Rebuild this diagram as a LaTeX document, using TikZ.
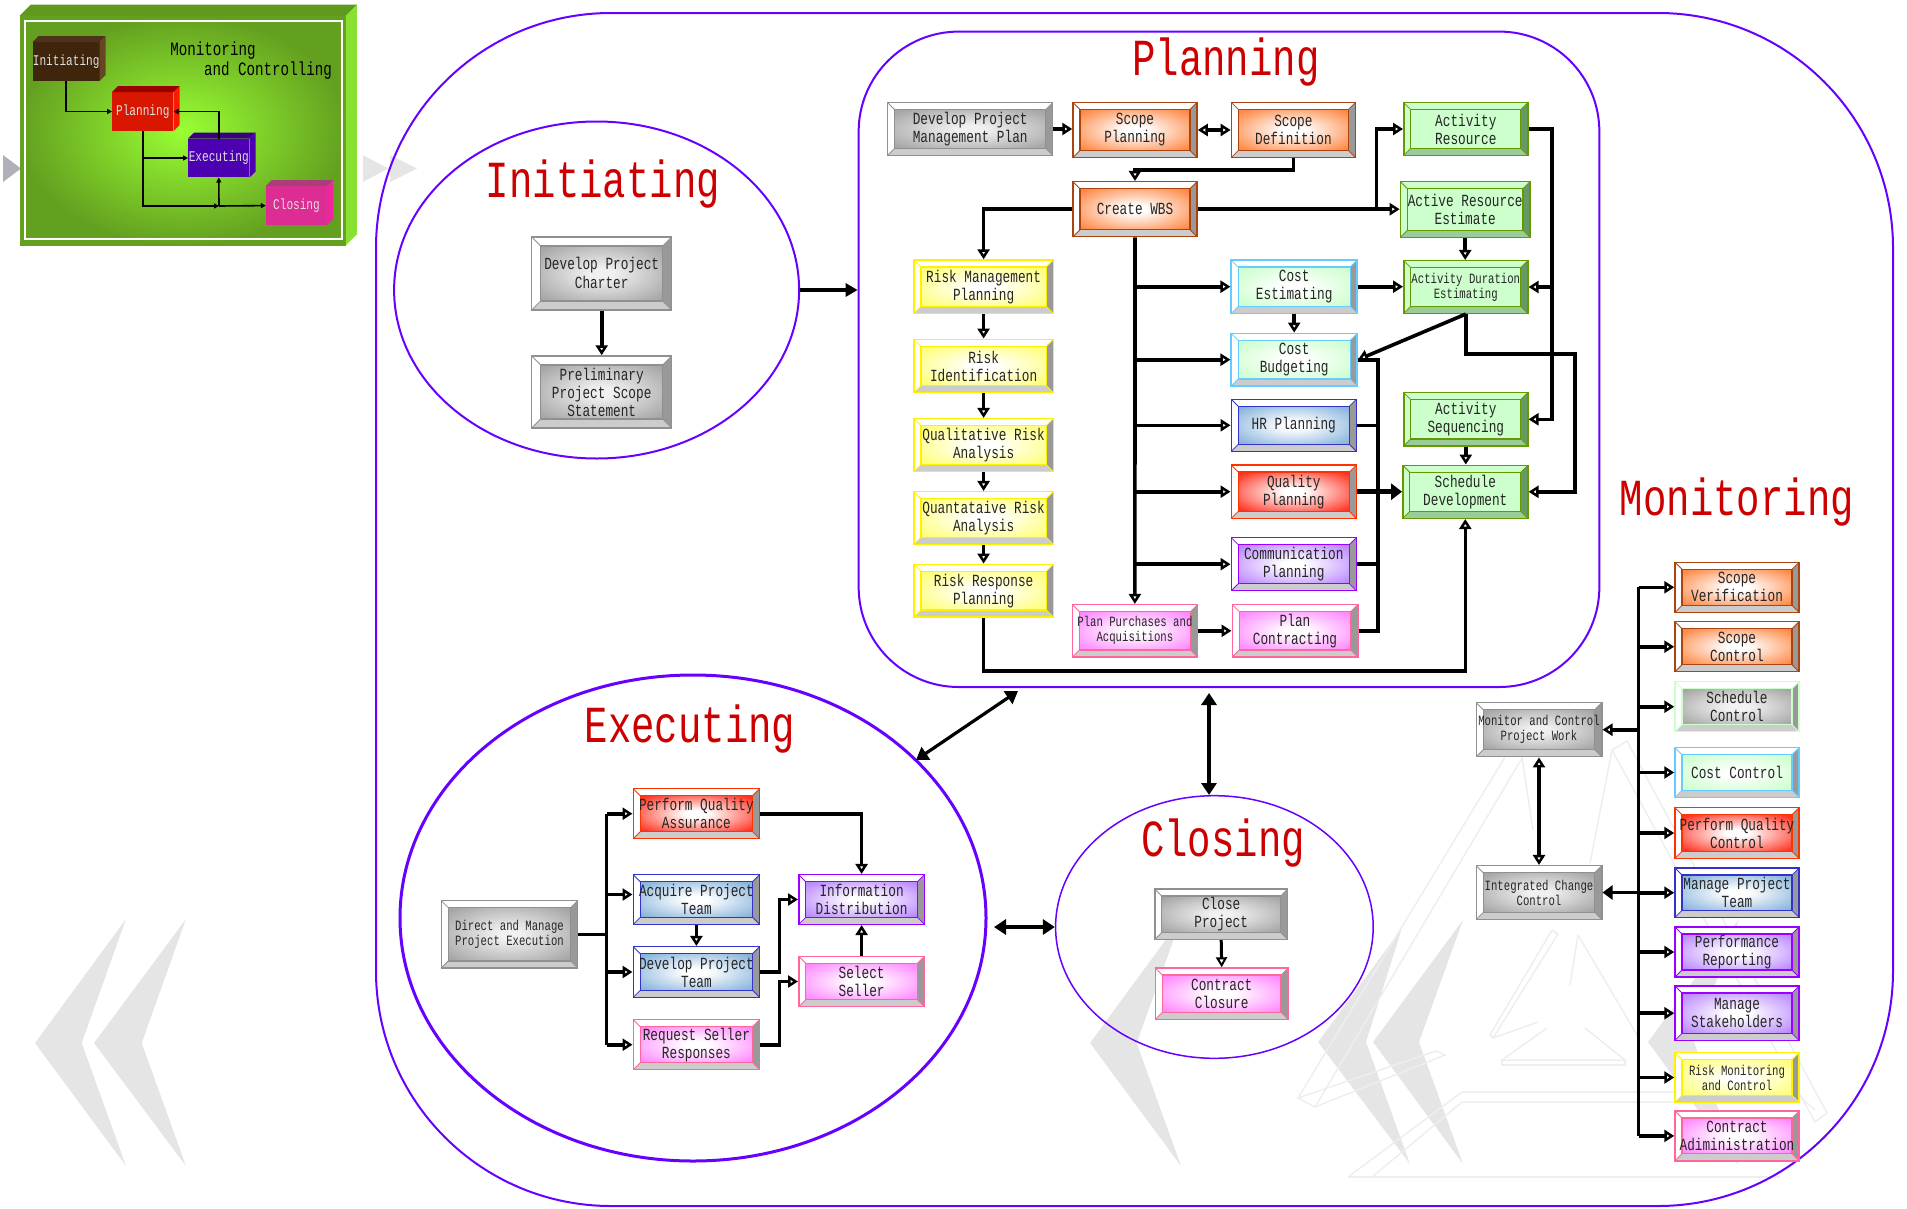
\documentclass[tikz,border=0pt]{standalone}
\usepackage{fontspec}
\usetikzlibrary{arrows.meta,shapes.geometric}
\newfontfamily\boxfont[FakeStretch=0.75]{Liberation Mono}
\newcommand{\boxtext}{\boxfont\fontsize{17}{18}\selectfont}
\newcommand{\smallboxtext}{\boxfont\fontsize{14.2}{15}\selectfont}
\newcommand{\cubefaces}[4]{%
\fill[#3] (#1.north west) -- ([shift={(#2pt,#2pt)}]#1.north west) -- ([shift={(#2pt,#2pt)}]#1.north east) -- (#1.north east) -- cycle;
\fill[#4] (#1.north east) -- ([shift={(#2pt,#2pt)}]#1.north east) -- ([shift={(#2pt,#2pt)}]#1.south east) -- (#1.south east) -- cycle;}
\definecolor{framecol}{HTML}{6600FF}
\definecolor{titlecol}{HTML}{CC0000}
\definecolor{ghost}{HTML}{E5E5E5}
\definecolor{logoline}{HTML}{EEEEEE}
\definecolor{boxright}{HTML}{999999}
\definecolor{boxbottom}{HTML}{CCCCCC}
\definecolor{grayline}{HTML}{909090}
\definecolor{grayfill}{HTML}{A6A6A6}
\definecolor{orangeline}{HTML}{AA4411}
\definecolor{orangefill}{HTML}{FF8844}
\definecolor{greenline}{HTML}{669900}
\definecolor{greenfill}{HTML}{CCFFCC}
\definecolor{greendark}{HTML}{669966}
\definecolor{greenmid}{HTML}{99CC99}
\definecolor{skyline}{HTML}{66CCFF}
\definecolor{blueline}{HTML}{3333CC}
\definecolor{bluefill}{HTML}{88B4DC}
\definecolor{redline}{HTML}{FF3300}
\definecolor{redfill}{HTML}{FF3322}
\definecolor{purpleline}{HTML}{9900FF}
\definecolor{purplefill}{HTML}{BB88FF}
\definecolor{pinkline}{HTML}{FF6699}
\definecolor{pinkfill}{HTML}{FF88FF}
\definecolor{yellowfill}{HTML}{FFFF77}
\definecolor{thumbmid}{HTML}{99FF33}
\definecolor{thumbrim}{HTML}{64A020}
\definecolor{thumbtop}{HTML}{5F9A1E}
\definecolor{thumbside}{HTML}{88E030}
\definecolor{boxmid}{HTML}{FFFFFF}
\definecolor{boxrim}{HTML}{000000}
\pgfdeclareradialshading[boxmid,boxrim]{boxglow}{\pgfpointorigin}{color(0bp)=(boxmid); color(5bp)=(boxmid); color(33bp)=(boxrim); color(100bp)=(boxrim)}
\tikzset{
procbox/.style n args={6}{draw=#1,line width=1.5pt,inner sep=0pt,align=center,font=\boxtext,text=black!85,
  path picture={
    \path (path picture bounding box.north west) coordinate (pnw) (path picture bounding box.north east) coordinate (pne)
          (path picture bounding box.south west) coordinate (psw) (path picture bounding box.south east) coordinate (pse);
    \path ([shift={(\bevelsize,-\bevelsize)}]pnw) coordinate (qnw) ([shift={(-\bevelsize,-\bevelsize)}]pne) coordinate (qne)
          ([shift={(\bevelsize,\bevelsize)}]psw) coordinate (qsw) ([shift={(-\bevelsize,\bevelsize)}]pse) coordinate (qse);
    \fill[#4] (pnw) rectangle (pse);
    \fill[#5] (pne) -- (qne) -- (qse) -- (pse) -- cycle;
    \fill[#6] (psw) -- (qsw) -- (qse) -- (pse) -- cycle;
    \draw[#1,line width=.8pt] (pnw) -- (qnw) (pne) -- (qne) (psw) -- (qsw) (pse) -- (qse);
    \colorlet{boxmid}{#2}\colorlet{boxrim}{#3}
    \shade[draw=#1,line width=1.2pt,shading=boxglow] (qnw) rectangle (qse);
  }},
lightbox/.style n args={3}{procbox={#1}{#2}{#3}{white}{boxright}{boxbottom}},
graybox/.style={lightbox={grayline}{black!6}{grayfill}},
orangebox/.style={lightbox={orangeline}{white}{orangefill}},
greenbox/.style={procbox={greenline}{greenfill}{greenfill}{greenfill}{greendark}{greenmid}},
skybox/.style={lightbox={skyline}{white}{greenfill}},
bluebox/.style={lightbox={blueline}{white}{bluefill}},
redbox/.style={lightbox={redline}{white}{redfill}},
purplebox/.style={lightbox={purpleline}{white}{purplefill}},
pinkbox/.style={lightbox={pinkline}{white}{pinkfill}},
yellowbox/.style={lightbox={yellow}{white}{yellowfill}},
palegray/.style={lightbox={green!20}{black!5}{grayfill}},
boxdims/.style 2 args={minimum width=#1pt,minimum height=#2pt},
phase/.style={draw=framecol,ellipse,inner sep=0pt},
titletext/.style={text=titlecol,inner sep=0pt,font=\boxfont\fontsize{52}{52}\selectfont},
flow/.style={line width=3.6pt,-{Triangle[open,length=10pt,width=12pt,line width=2.5pt]}},
trunk/.style={line width=3.6pt},
twoway/.style={line width=3.6pt,{Triangle[open,length=10pt,width=12pt,line width=2.5pt]}-{Triangle[open,length=10pt,width=12pt,line width=2.5pt]}},
heavyway/.style={line width=3.2pt,{Triangle[length=12pt,width=15pt]}-{Triangle[length=12pt,width=15pt]}},
heavyflow/.style={line width=4.5pt,-{Triangle[length=11pt,width=16pt]}},
block/.style={inner sep=0pt,text=white!88!black,font=\boxfont\fontsize{14.8}{15}\selectfont,boxdims={61}{38.6}},
miniflow/.style={line width=1.6pt,-{Triangle[length=5pt,width=5pt]}},
ghosty/.style={fill=ghost},
logo/.style={draw=logoline,line width=1.5pt}
}
\def\bevelsize{7pt}
\begin{document}
\begin{tikzpicture}[x=1pt,y=-1pt]
\useasboundingbox (0,0) rectangle (1907,1208);
\fill[ghosty] (35,1043) -- (126,919) -- (81.7,1043) -- (126,1166) -- cycle;
\fill[ghosty] (94,1043) -- (186,919) -- (141.7,1043) -- (186,1166) -- cycle;
\fill[ghosty] (1090,1043) -- (1181,919) -- (1136.7,1043) -- (1181,1166) -- cycle;
\fill[ghosty] (1318,1042) -- (1402,928) -- (1366,1042) -- (1410,1164) -- cycle;
\fill[ghosty] (1373,1042) -- (1463,920) -- (1419,1042) -- (1463,1164) -- cycle;
\fill[ghosty] (1648,1042) -- (1739,919) -- (1694,1042) -- (1739,1166) -- cycle;
\fill[black!30!blue!8!white!75!black] (3,155) -- (21,168.5) -- (3,182) -- cycle;
\fill[ghosty] (363,155) -- (388,168.5) -- (363,182) -- cycle;
\fill[ghosty] (390,155) -- (417,168.5) -- (390,182) -- cycle;

\draw[logo] (1298,1098) -- (1505,757);
\draw[logo] (1315,1107) -- (1522,758) -- (1533,830);
\draw[logo] (1298,1098) -- (1315,1107) -- (1445,1055) -- (1436,1051) -- cycle;
\draw[logo] (1612,750) -- (1627,741) -- (1827,1113) -- (1815,1122) -- cycle;
\draw[logo] (1612,750) -- (1590,863);
\draw[logo] (1348,1177) -- (1462,1092) -- (1795,1092) -- (1815,1110);
\draw[logo] (1372,1177) -- (1462,1102) -- (1800,1102);
\draw[logo] (1348,1177) -- (1780,1177);
\draw[logo] (1552,930) -- (1490,1035) -- (1493,1038) -- (1538,1022);
\draw[logo] (1552,930) -- (1558,934) -- (1493,1038);
\draw[logo] (1578,935) -- (1570,985);
\draw[logo] (1578,935) -- (1640,1040);
\draw[logo] (1547,1028) -- (1502,1060) -- (1625,1060) -- (1585,1028);
\draw[logo] (1502,1060) -- (1502,1065) -- (1625,1065) -- (1625,1060);

\node[draw=framecol,line width=2pt,rounded corners=235pt,inner sep=0pt,boxdims={1517}{1193}] (frame) at (1134.5,609.5) {};
\node[draw=framecol,line width=2pt,rounded corners=100pt,inner sep=0pt,boxdims={740.7}{655.4}] (planning) at (1229,359.3) {};
\node[phase,line width=2pt,boxdims={405}{337}] (initiating) at (596.6,290) {};
\node[phase,line width=3pt,boxdims={586}{486}] (executing) at (693,918) {};
\node[phase,line width=1.5pt,boxdims={317.6}{262.6}] (closing) at (1214.4,927) {};

\node[titletext] (initiatingtitle) at (603,184.5) {Initiating};
\node[titletext] (planningtitle) at (1226,62.5) {Planning};
\node[titletext] (executingtitle) at (690,729.5) {Executing};
\node[titletext] (closingtitle) at (1223,843.5) {Closing};
\node[titletext] (monitoringtitle) at (1737,502.5) {Monitoring};

\def\bevelsize{9pt}
\node[graybox,boxdims={140}{73}] (charter) at (601.7,273.4) {Develop Project\\[1pt]Charter};
\node[graybox,boxdims={140}{72}] (prelim) at (601.7,392) {Preliminary\\Project Scope\\Statement};
\draw[flow] (charter.south) -- (prelim.north);
\draw[trunk,-{Triangle[length=12pt,width=13pt]}] (initiating.east) -- (initiating.east -| planning.west);
\def\bevelsize{7pt}

\node[graybox,boxdims={165}{52.6}] (pmplan) at (970.2,129) {Develop Project\\Management Plan};
\node[orangebox,boxdims={124}{55}] (scopeplan) at (1135,130) {Scope\\Planning};
\node[orangebox,boxdims={124}{55}] (scopedef) at (1293.4,130) {Scope\\Definition};
\node[greenbox,boxdims={124}{52.6}] (actres) at (1465.8,129) {Activity\\Resource};
\node[orangebox,boxdims={124}{55}] (wbs) at (1135,209.2) {Create WBS};
\node[greenbox,boxdims={129.5}{55.6}] (actest) at (1465.2,209.5) {Active Resource\\Estimate};
\node[yellowbox,boxdims={139.3}{53.3}] (riskmgmt) at (983.6,286.7) {Risk Management\\Planning};
\node[skybox,boxdims={126}{53.3}] (costest) at (1294.2,286.7) {Cost\\Estimating};
\node[greenbox,font=\smallboxtext,boxdims={124}{52.6}] (actdur) at (1465.8,287) {Activity Duration\\Estimating};
\node[yellowbox,boxdims={139.3}{53.4}] (riskid) at (983.6,366) {Risk\\Identification};
\node[skybox,boxdims={126}{52.7}] (costbud) at (1294.2,359.7) {Cost\\Budgeting};
\node[bluebox,boxdims={125}{52}] (hrplan) at (1293.8,425.3) {HR Planning};
\node[greenbox,boxdims={124}{53.3}] (actseq) at (1465.8,419.3) {Activity\\Sequencing};
\node[yellowbox,boxdims={139.3}{53}] (qualrisk) at (983.6,445.2) {Qualitative Risk\\Analysis};
\node[yellowbox,boxdims={139.3}{52.6}] (quantrisk) at (983.6,518) {Quantataive Risk\\Analysis};
\node[yellowbox,boxdims={139.3}{52.7}] (riskresp) at (983.6,590.7) {Risk Response\\Planning};
\node[redbox,boxdims={125}{53.3}] (qualplan) at (1293.8,491.7) {Quality\\Planning};
\node[greenbox,boxdims={125}{53}] (schedule) at (1465.3,491.8) {Schedule\\Development};
\node[purplebox,boxdims={125}{53}] (commplan) at (1293.8,564.2) {Communication\\Planning};
\node[pinkbox,font=\smallboxtext,boxdims={125}{52.3}] (purchases) at (1134.9,630.8) {Plan Purchases and\\Acquisitions};
\node[pinkbox,boxdims={125.5}{52.3}] (contracting) at (1295,630.8) {Plan\\Contracting};

\coordinate (wbsup) at (1376.4,209.2);
\coordinate (resbus) at (1551.8,129);
\coordinate (costbus) at (1377.8,359.7);

\draw[flow] (pmplan.east) -- (pmplan.east -| scopeplan.west);
\draw[twoway] (scopeplan.east) -- (scopedef.west);
\draw[flow] (scopedef.south) -- ++(0,11.6) -| (wbs.north);
\draw[flow] (wbs.east) -- (wbs.east -| actest.west);
\draw[flow] (wbsup) |- (actres.west);
\draw[flow] (wbs.west) -| (riskmgmt.north);
\draw[flow] (riskmgmt.south) -- (riskid.north);
\draw[flow] (riskid.south) -- (qualrisk.north);
\draw[flow] (qualrisk.south) -- (quantrisk.north);
\draw[flow] (quantrisk.south) -- (riskresp.north);
\draw[flow] (riskresp.south) -- ++(0,53) -| (schedule.south);
\draw[flow] (wbs.south) -- (purchases.north);
\draw[flow] (wbs.south |- costest.west) -- (costest.west);
\draw[flow] (wbs.south |- costbud.west) -- (costbud.west);
\draw[flow] (wbs.south |- hrplan.west) -- (hrplan.west);
\draw[flow] (wbs.south |- qualplan.west) -- (qualplan.west);
\draw[flow] (wbs.south |- commplan.west) -- (commplan.west);
\draw[flow] (purchases.east) -- (contracting.west);
\draw[flow] (costest.east) -- (costest.east -| actdur.west);
\draw[flow] (costest.south) -- (costbud.north);
\draw[flow] (actest.south) -- (actest.south |- actdur.north);
\draw[flow] (actseq.south) -- (actseq.south |- schedule.north);
\draw[flow] (actres.east) -- (resbus) |- (actseq.east);
\draw[flow] (resbus |- actdur.east) -- (actdur.east);
\draw[flow] (actdur.south) -- (costbud.east);
\draw[flow] (actdur.south) -- ++(0,40) -- ++(109,0) |- (schedule.east);
\draw[trunk] (costbud.east) -- (costbus) |- (contracting.east);
\draw[trunk] (hrplan.east) -- (hrplan.east -| costbus);
\draw[trunk] (commplan.east) -- (commplan.east -| costbus);
\draw[heavyflow] (qualplan.east) -- (qualplan.east -| schedule.west);

\node[graybox,font=\smallboxtext,boxdims={136.4}{67.3}] (direct) at (509.5,934.3) {Direct and Manage\\Project Execution};
\node[redbox,boxdims={126.3}{50}] (perfqa) at (696.4,813.7) {Perform Quality\\Assurance};
\node[bluebox,boxdims={126.3}{49.6}] (acquire) at (696.4,899.5) {Acquire Project\\Team};
\node[bluebox,boxdims={126.3}{50.6}] (develop) at (696.4,972) {Develop Project\\Team};
\node[pinkbox,boxdims={126.3}{50}] (request) at (696.4,1044.7) {Request Seller\\Responses};
\node[purplebox,boxdims={125.7}{49.6}] (infodist) at (861.6,899.5) {Information\\Distribution};
\node[pinkbox,boxdims={125.7}{50.4}] (seller) at (861.6,981.5) {Select\\Seller};

\coordinate (execbus) at (606.6,934.3);
\draw[trunk] (direct.east) -- (execbus);
\draw[trunk] (execbus |- perfqa.west) -- (execbus |- request.west);
\draw[flow] (execbus |- perfqa.west) -- (perfqa.west);
\draw[flow] ([yshift=5pt]execbus |- acquire.west) -- ([yshift=5pt]acquire.west);
\draw[flow] (execbus |- develop.west) -- (develop.west);
\draw[flow] (execbus |- request.west) -- (request.west);
\draw[flow] (perfqa.east) -| (infodist.north);
\draw[flow] (acquire.south) -- (develop.north);
\draw[flow] (develop.east) -- ++(19.3,0) |- (infodist.west);
\draw[flow] (request.east) -- ++(19.3,0) |- (seller.west);
\draw[flow] (seller.north) -- (infodist.south);

\node[graybox,boxdims={132.7}{50.3}] (closeproj) at (1221.2,914.2) {Close\\Project};
\node[pinkbox,boxdims={132.7}{51.3}] (contractclose) at (1221.7,993.7) {Contract\\Closure};
\draw[line width=3pt,-{Triangle[open,length=10pt,width=11pt,line width=2pt]}] (closeproj.south) -- (contractclose.north);

\node[graybox,font=\smallboxtext,boxdims={125.5}{54}] (monitor) at (1539,729.7) {Monitor and Control\\Project Work};
\node[graybox,font=\smallboxtext,boxdims={125.5}{53.6}] (integrated) at (1539,892.5) {Integrated Change\\Control};
\node[orangebox,boxdims={124}{50}] (verif) at (1737,587.3) {Scope\\Verification};
\node[orangebox,boxdims={124}{50}] (scopectl) at (1737,646.7) {Scope\\Control};
\node[palegray,boxdims={124}{50}] (schedctl) at (1737,706.7) {Schedule\\Control};
\node[skybox,boxdims={124}{49.6}] (costctl) at (1737,772.5) {Cost Control};
\node[redbox,boxdims={124}{50.6}] (qualctl) at (1737,833) {Perform Quality\\Control};
\node[bluebox,boxdims={124}{49.3}] (manageteam) at (1737,892.7) {Manage Project\\Team};
\node[purplebox,boxdims={124}{50}] (perfrep) at (1737,952) {Performance\\Reporting};
\node[purplebox,boxdims={124}{54.3}] (stakeholders) at (1737,1013.2) {Manage\\Stakeholders};
\node[yellowbox,font=\smallboxtext,boxdims={124}{49.6}] (riskctl) at (1737,1077.5) {Risk Monitoring\\and Control};
\node[pinkbox,boxdims={124}{49.7}] (contractadm) at (1737,1135.9) {Contract\\Adiministration};

\coordinate (montop) at (1638.6,587.3);
\coordinate (monbot) at (1638.6,1135.9);
\draw[trunk] (montop) -- (monbot);
\draw[flow] (montop) -- (verif.west);
\draw[flow] (montop |- scopectl.west) -- (scopectl.west);
\draw[flow] (montop |- schedctl.west) -- (schedctl.west);
\draw[flow] (montop |- costctl.west) -- (costctl.west);
\draw[flow] (montop |- qualctl.west) -- (qualctl.west);
\draw[flow] (montop |- manageteam.west) -- (manageteam.west);
\draw[flow] (montop |- perfrep.west) -- (perfrep.west);
\draw[flow] (montop |- stakeholders.west) -- (stakeholders.west);
\draw[flow] (montop |- riskctl.west) -- (riskctl.west);
\draw[flow] (monbot) -- (contractadm.west);
\draw[flow] (montop |- monitor.east) -- (monitor.east);
\draw[line width=3.6pt,-{Triangle[length=10pt,width=14pt]}] (montop |- integrated.east) -- (integrated.east);
\draw[twoway] (monitor.south) -- (integrated.north);

\coordinate (planlow) at (1018,691);
\coordinate (execup) at (916,760);
\coordinate (planmid) at (1209,693);
\coordinate (closetop) at (1209,795);
\coordinate (execright) at (994,927);
\draw[heavyway] (planmid) -- (closetop);
\draw[heavyway] (execup) -- (planlow);
\draw[heavyway] (execright) -- (closing.west);

\node[inner sep=0pt,inner color=thumbmid,outer color=thumbrim,boxdims={325.7}{229.3}] (thumb) at (182.9,130.4) {};
\cubefaces{thumb}{11}{thumbtop}{thumbside}
\node[draw=white,line width=2pt,inner sep=0pt,boxdims={316.7}{218.3}] (thumbframe) at (183.4,129.9) {};
\node[block,fill=brown!35!black!80!orange!60!black] (initblock) at (66.2,61.5) {Initiating};
\cubefaces{initblock}{6}{brown!40!black}{brown!55!black}
\node[block,fill=red!80!orange!85!black] (planblock) at (142.8,111.5) {Planning};
\cubefaces{planblock}{6}{red!60!black}{red!80!orange}
\node[block,fill=blue!40!violet!100!black] (execblock) at (218.8,158) {Executing};
\cubefaces{execblock}{6}{blue!40!violet!75!black}{blue!40!violet}
\node[block,fill=magenta!80!violet!90!white] (closeblock) at (296.5,205.6) {Closing};
\cubefaces{closeblock}{6}{magenta!65!black}{magenta!85!white}
\node[inner sep=0pt,font=\boxfont\fontsize{18.9}{19}\selectfont] (montext) at (213,51) {Monitoring};
\node[inner sep=0pt,font=\boxfont\fontsize{18.9}{19}\selectfont] (contrtext) at (268,71) {and Controlling};
\coordinate (thumbjoin) at (219,206);
\draw[miniflow] (initblock.south) |- (planblock.west);
\draw[miniflow] (execblock.north) |- (planblock.east);
\draw[miniflow] (planblock.south) |- (thumbjoin);
\draw[miniflow] (thumbjoin) -- (closeblock.west);
\draw[miniflow] (thumbjoin) -- (execblock.south);
\draw[miniflow] (planblock.south |- execblock.west) -- (execblock.west);
\end{tikzpicture}
\end{document}
